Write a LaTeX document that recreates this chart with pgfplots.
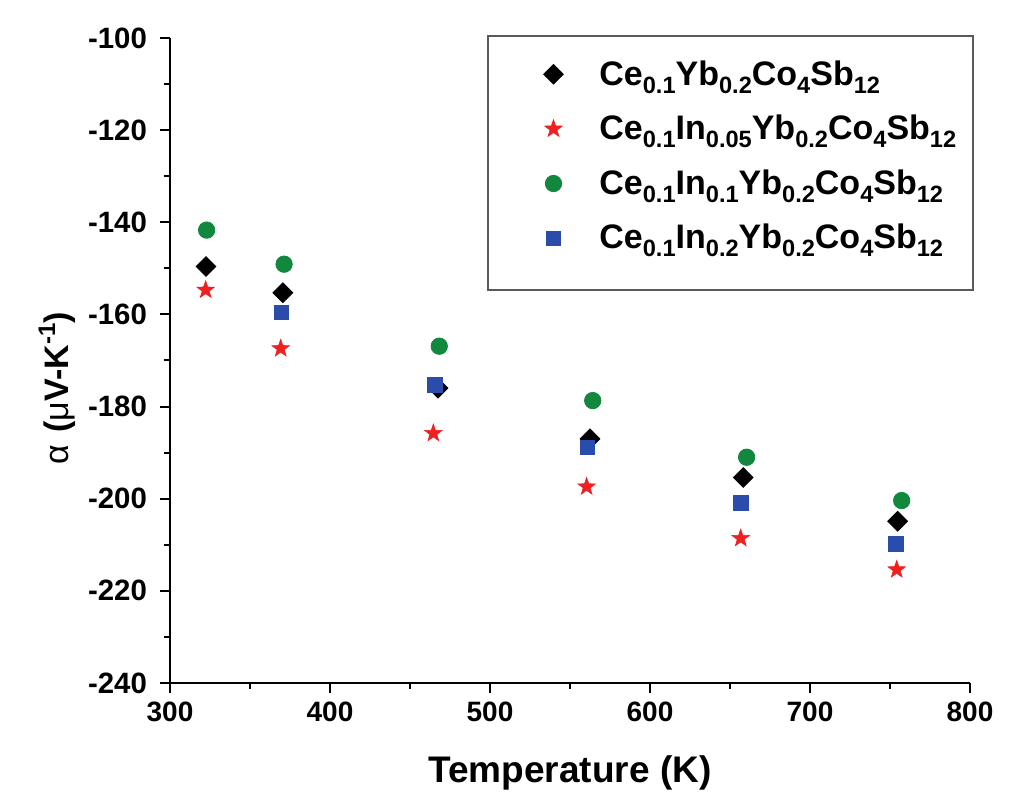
\documentclass[border=0pt]{standalone}
\usepackage{fontspec}
\setmainfont{Liberation Sans}
\usepackage{pgfplots}
\pgfplotsset{compat=1.18}
\definecolor{cgreen}{RGB}{18,135,62}
\definecolor{cblue}{RGB}{42,76,170}
\definecolor{cred}{RGB}{240,32,32}
\newcommand\sub[1]{\raisebox{-4pt}{\fontsize{11.8}{11.8}\selectfont #1}}
\newcommand\sups[1]{\raisebox{0.75ex}{\fontsize{12}{12}\selectfont #1}}
\pgfdeclareplotmark{fstar}{%
  \pgfpathmoveto{\pgfpointpolar{90}{\pgfplotmarksize}}%
  \pgfpathlineto{\pgfpointpolar{126}{0.4\pgfplotmarksize}}%
  \pgfpathlineto{\pgfpointpolar{162}{\pgfplotmarksize}}%
  \pgfpathlineto{\pgfpointpolar{198}{0.4\pgfplotmarksize}}%
  \pgfpathlineto{\pgfpointpolar{234}{\pgfplotmarksize}}%
  \pgfpathlineto{\pgfpointpolar{270}{0.4\pgfplotmarksize}}%
  \pgfpathlineto{\pgfpointpolar{306}{\pgfplotmarksize}}%
  \pgfpathlineto{\pgfpointpolar{342}{0.4\pgfplotmarksize}}%
  \pgfpathlineto{\pgfpointpolar{18}{\pgfplotmarksize}}%
  \pgfpathlineto{\pgfpointpolar{54}{0.4\pgfplotmarksize}}%
  \pgfpathclose
  \pgfusepathqfillstroke}
\begin{document}
\begin{tikzpicture}
\begin{axis}[
  name=ax,
  scale only axis,
  width=400pt, height=322.5pt,
  xmin=300, xmax=800, ymin=-240, ymax=-100,
  axis x line*=bottom, axis y line*=left,
  axis line style={line width=1pt, -},
  xtick={300,400,...,800},
  ytick={-240,-220,...,-100},
  minor x tick num=1, minor y tick num=1,
  tick align=outside,
  major tick length=5pt, minor tick length=3pt,
  every tick/.style={black, line width=1pt},
  /pgf/number format/assume math mode=true,
  x tick label style={font=\bfseries\fontsize{14}{16}\selectfont, yshift=-1pt},
  y tick label style={font=\bfseries\fontsize{14.7}{16}\selectfont, xshift=-3pt},
  xlabel={Temperature (K)},
  ylabel={{\mdseries α}\hspace{0.35em}({\mdseries μ}V-K\sups{-1})},
  xlabel style={font=\bfseries\fontsize{18.5}{20}\selectfont, at={(axis description cs:0.5,-0.14)}, anchor=center},
  ylabel style={font=\bfseries\fontsize{17}{19}\selectfont, at={(axis description cs:-0.141,0.457)}, anchor=center},
  clip=false,
  legend style={at={(axis description cs:0.4665,0.972)}, anchor=north west,
    draw=none, fill=none, font=\bfseries\fontsize{17}{18}\selectfont,
    inner sep=0pt, row sep=9.5pt, column sep=16pt},
  legend cell align=left,
]
\addplot[only marks, mark=square*, mark size=3.5pt, mark options={rotate=45, fill=black, draw=black}]
  coordinates {(322.5,-149.6) (370.5,-155.3) (467.5,-176.0) (562.5,-187.0) (658.3,-195.4) (754.8,-204.9)};
\addlegendentry{Ce\sub{0.1}Yb\sub{0.2}Co\sub{4}Sb\sub{12}}
\addplot[only marks, mark=fstar, mark size=4.6pt, mark options={draw=cred, fill=cred, line width=0.3pt}]
  coordinates {(322.3,-154.7) (369.2,-167.4) (464.6,-185.8) (560.4,-197.4) (656.7,-208.6) (754.2,-215.4)};
\addlegendentry{Ce\sub{0.1}In\sub{0.05}Yb\sub{0.2}Co\sub{4}Sb\sub{12}}
\addplot[only marks, mark=*, mark size=4.1pt, mark options={draw=cgreen, fill=cgreen}]
  coordinates {(322.9,-141.7) (371.3,-149.1) (468.3,-166.9) (564.2,-178.7) (660.4,-191.0) (757.3,-200.4)};
\addlegendentry{Ce\sub{0.1}In\sub{0.1}Yb\sub{0.2}Co\sub{4}Sb\sub{12}}
\addplot[only marks, mark=square*, mark size=3.6pt, mark options={draw=cblue, fill=cblue}]
  coordinates {(369.8,-159.5) (465.6,-175.3) (560.8,-188.9) (656.9,-200.9) (753.8,-209.8)};
\addlegendentry{Ce\sub{0.1}In\sub{0.2}Yb\sub{0.2}Co\sub{4}Sb\sub{12}}
\draw[black!65, line width=0.9pt] (axis description cs:0.3975,0.6093) rectangle (axis description cs:1.004,1.0031);
\coordinate (bl) at (rel axis cs:-0.2125,-0.2);
\coordinate (tr) at (rel axis cs:1.0675,1.0589);
\end{axis}
\pgfresetboundingbox
\path[use as bounding box] (bl) rectangle (tr);
\end{tikzpicture}
\end{document}
